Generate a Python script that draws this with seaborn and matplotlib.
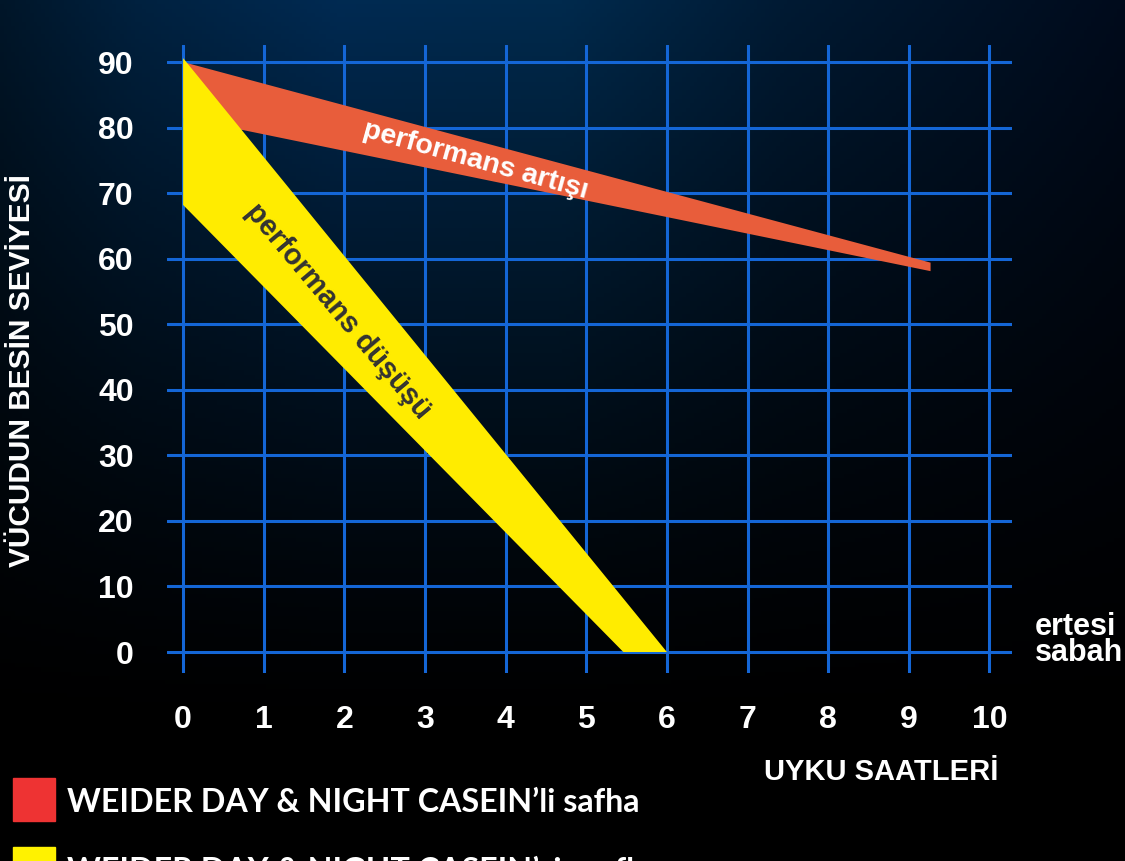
import numpy as np
import matplotlib
matplotlib.use("Agg")
import matplotlib.pyplot as plt
import seaborn as sns
from matplotlib.colors import to_rgb
from matplotlib.patches import Rectangle

# ---- data ----
hours = list(range(0, 11))            # x ticks (UYKU SAATLERİ)
levels = list(range(0, 100, 10))      # y ticks (VÜCUDUN BESİN SEVİYESİ)
red_x = [0, 9.27, 9.27, 0]            # WEIDER DAY & NIGHT CASEIN'li safha band
red_y = [90, 59.4, 58.1, 81.5]
yellow_x = [0, 6.0, 5.46, 0]          # WEIDER DAY & NIGHT CASEIN'siz safha band
yellow_y = [90.6, 0, 0, 68.2]
legend_labels = ["WEIDER DAY & NIGHT CASEIN\u2019li safha",
                 "WEIDER DAY & NIGHT CASEIN\u2019siz safha"]

sns.set_theme(style="white")
plt.rcParams['font.family'] = ['Liberation Sans', 'DejaVu Sans']

W, H = 1125, 861
fig = plt.figure(figsize=(W / 100, H / 100), dpi=100)

# ---- background gradient ----
nx, ny = 300, 200
xs = np.linspace(0, 1, nx)
stops_x = [0, 0.12, 0.3, 0.5, 0.7, 1.0]
stops_c = ['#001629', '#00213f', '#002a52', '#002a4d', '#001a33', '#000b1c']
cols = np.array([to_rgb(c) for c in stops_c])
top = np.stack([np.interp(xs, stops_x, cols[:, k]) for k in range(3)], axis=1)
ts = np.linspace(0, 1, ny)
fac = np.clip(1 - ts / 0.85, 0, 1) ** 1.3
img = fac[:, None, None] * top[None, :, :]
bg = fig.add_axes([0, 0, 1, 1], zorder=0)
bg.imshow(img, aspect='auto', extent=[0, 1, 0, 1], origin='upper')
bg.set_xlim(0, 1)
bg.set_ylim(0, 1)
bg.axis('off')

# ---- main axes ----
ax = fig.add_axes([167 / W, 1 - 673 / H, (1012 - 167) / W, (673 - 45) / H], zorder=1)
ax.patch.set_alpha(0)
ax.set_xlim(-0.2, 10.28)
ax.set_ylim(-3.2, 92.6)
ax.set_xticks(hours)
ax.set_yticks(levels)
ax.grid(True, color='#1466d6', lw=2.2, zorder=0)
for s in ax.spines.values():
    s.set_visible(False)
ax.tick_params(length=0, labelsize=23, labelcolor='white')
ax.tick_params(axis='x', pad=23)
ax.tick_params(axis='y', pad=24)
for lab in ax.get_xticklabels() + ax.get_yticklabels():
    lab.set_fontweight('bold')

ax.fill(red_x, red_y, color='#e85d3b', lw=0, zorder=2)
ax.fill(yellow_x, yellow_y, color='#ffec00', lw=0, zorder=3)

ax.text(3.62, 75.0, "performans art\u0131\u015f\u0131", color='white', fontsize=20.5,
        fontweight='bold', rotation=-15.5, ha='center', va='center',
        rotation_mode='anchor', zorder=4)
ax.text(1.92, 52.0, "performans d\u00fc\u015f\u00fc\u015f\u00fc", color='#333333', fontsize=21,
        fontweight='bold', rotation=-50, ha='center', va='center',
        rotation_mode='anchor', zorder=4)

# ---- labels ----
fig.text(22 / W, 1 - 371 / H, "V\u00dcCUDUN BES\u0130N SEV\u0130YES\u0130", color='white',
         fontsize=21.5, fontweight='bold', rotation=90, ha='center', va='center')
fig.text(881 / W, 1 - 772 / H, "UYKU SAATLER\u0130", color='white',
         fontsize=21, fontweight='bold', ha='center', va='center')
fig.text(1035 / W, 1 - 640 / H, "ertesi\nsabah", color='white', fontsize=22,
         fontweight='bold', ha='left', va='center', linespacing=0.85)

# ---- legend ----
leg_colors = ['#ee3333', '#fff200']
for i, (lab, c) in enumerate(zip(legend_labels, leg_colors)):
    ytop = 778 + i * 69
    fig.patches.append(Rectangle((13 / W, 1 - (ytop + 43) / H), 42 / W, 43 / H,
                                 transform=fig.transFigure, color=c, zorder=5))
    fig.text(67 / W, 1 - (ytop + 25) / H, lab, color='white', fontsize=23.2,
             fontweight='bold', family=['Lato', 'DejaVu Sans'],
             ha='left', va='center', zorder=5)

fig.savefig("out.png", dpi=100)
